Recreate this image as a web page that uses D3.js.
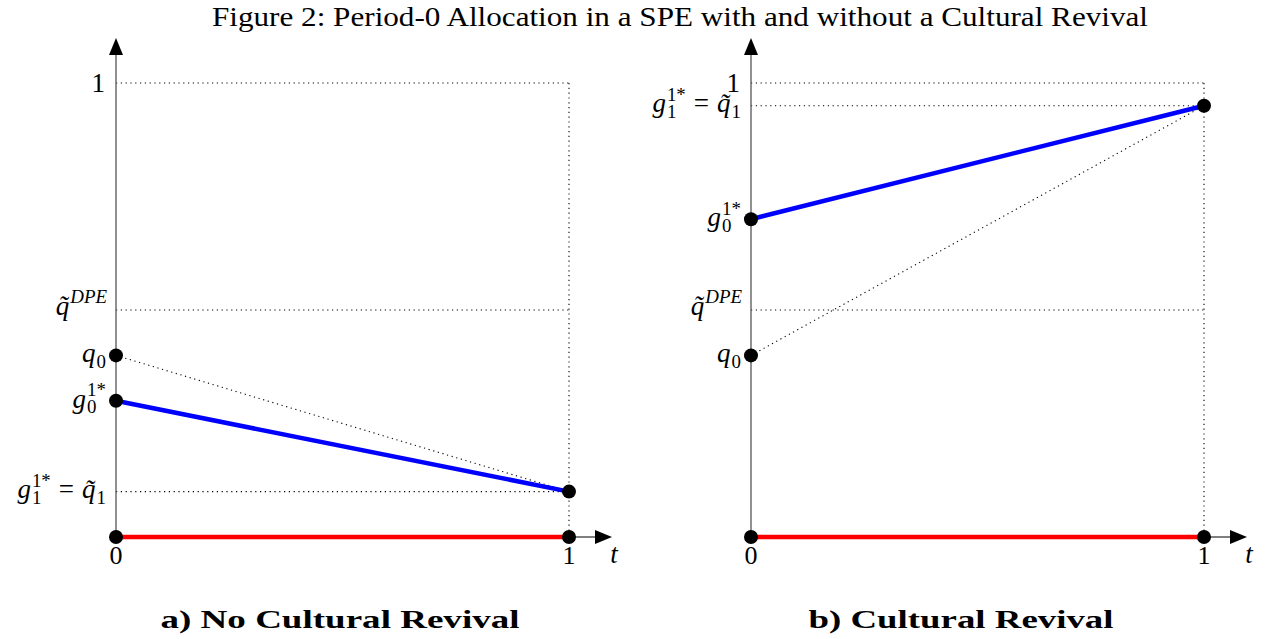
<!DOCTYPE html>
<html><head><meta charset="utf-8">
<script src="https://cdn.jsdelivr.net/npm/d3@7"></script>
<style>body{margin:0;background:#fff}svg{display:block}</style>
</head><body>
<svg id="c" width="1271" height="639"></svg>
<script>
const titleText = "Figure 2: Period-0 Allocation in a SPE with and without a Cultural Revival";
const panelTitles = ["a) No Cultural Revival", "b) Cultural Revival"];
const q0Values = [0.40, 0.40];
const g0Values = [0.30, 0.70];
const g1Values = [0.10, 0.95];
const qDPEValues = [0.50, 0.50];
const xTicks = [0, 1];

const svg = d3.select("#c");
const FONT = "'Liberation Serif','DejaVu Serif',serif";
const panelX = [[116, 569], [751, 1204]];
const titleCenters = [340, 961];
const titleWidths = [359, 305];

svg.append("text").attr("x", 212).attr("y", 26)
  .attr("font-family", FONT).attr("font-size", 28)
  .attr("textLength", 936).attr("lengthAdjust", "spacingAndGlyphs")
  .text(titleText);

const meas = svg.append("text").attr("font-family", FONT).attr("x", -1000).attr("y", -1000);
function tw(s, size, it) {
  meas.attr("font-size", size).attr("font-style", it ? "italic" : "normal").text(s);
  return meas.node().getComputedTextLength();
}

// one text element per label; tspans with absolute positions; right edge at xr, math axis at ym
function mathLabel(g, pieces, xr, ym, S) {
  const base = ym + S * 0.25;
  const sS = S * 0.7;
  const items = [];
  let x = 0;
  pieces.forEach(p => {
    if (p.t !== undefined) {
      const s = p.tilde ? p.t + "\u0303" : p.t;
      const w = tw(s, S, p.it);
      items.push({s: s, x: x, y: base, size: S, it: p.it});
      x += w + (p.gap || 0);
    } else {
      let w = 0;
      if (p.sup) {
        items.push({s: p.sup, x: x + 1, y: base - S * 0.42, size: sS, it: p.supIt});
        w = Math.max(w, tw(p.sup, sS, p.supIt) + 1);
      }
      if (p.sub) {
        items.push({s: p.sub, x: x + 1, y: base + S * 0.22, size: sS, it: false});
        w = Math.max(w, tw(p.sub, sS, false) + 1);
      }
      x += w + (p.gap || 0);
    }
  });
  const off = xr - x;
  const t = g.append("text").attr("font-family", FONT).attr("xml:space", "preserve");
  items.forEach(it => t.append("tspan").attr("x", off + it.x).attr("y", it.y)
    .attr("font-size", it.size).attr("font-style", it.it ? "italic" : "normal").text(it.s));
  return t;
}

panelTitles.forEach((pt, i) => {
  const x = d3.scaleLinear().domain([0, 1]).range(panelX[i]);
  const y = d3.scaleLinear().domain([0, 1]).range([537, 83]);
  const g = svg.append("g");
  const x0 = x(0), x1 = x(1);
  const dotted = (a, b) => g.append("line")
    .attr("x1", a[0]).attr("y1", a[1]).attr("x2", b[0]).attr("y2", b[1])
    .attr("stroke", "#000").attr("stroke-width", 1.1).attr("stroke-dasharray", "1.2,3.6");
  [1, qDPEValues[i], g1Values[i]].forEach(v => dotted([x0, y(v)], [x1, y(v)]));
  dotted([x1, y(1)], [x1, y(0)]);
  dotted([x0, y(q0Values[i])], [x1, y(g1Values[i])]);

  g.append("line").attr("x1", x0).attr("y1", y(0)).attr("x2", x0).attr("y2", 52)
    .attr("stroke", "#555").attr("stroke-width", 1.3);
  g.append("line").attr("x1", x0).attr("y1", y(0)).attr("x2", x1 + 30).attr("y2", y(0))
    .attr("stroke", "#555").attr("stroke-width", 1.3);
  g.append("path").attr("d", `M${x0},38 L${x0 - 7},55 L${x0 + 7},55 Z`).attr("fill", "#000");
  g.append("path").attr("d", `M${x1 + 43},${y(0)} L${x1 + 26},${y(0) - 7} L${x1 + 26},${y(0) + 7} Z`).attr("fill", "#000");

  g.append("line").attr("x1", x0).attr("y1", y(0)).attr("x2", x1).attr("y2", y(0))
    .attr("stroke", "#ff0000").attr("stroke-width", 4.5);
  g.append("line").attr("x1", x0).attr("y1", y(g0Values[i])).attr("x2", x1).attr("y2", y(g1Values[i]))
    .attr("stroke", "#0000ff").attr("stroke-width", 4.5);

  const dots = [[0, 0], [1, 0], [0, q0Values[i]], [0, g0Values[i]], [1, g1Values[i]]];
  g.selectAll("circle.d").data(dots).enter().append("circle")
    .attr("cx", d => x(d[0])).attr("cy", d => y(d[1])).attr("r", 7).attr("fill", "#000");

  xTicks.forEach(t => g.append("text").attr("x", x(t)).attr("y", 564)
    .attr("text-anchor", "middle").attr("font-family", FONT).attr("font-size", 26).text(t));
  g.append("text").attr("x", x1 + 45).attr("y", 563).attr("text-anchor", "middle")
    .attr("font-family", FONT).attr("font-size", 27).attr("font-style", "italic").text("t");
  g.append("text").attr("x", x0 - 11).attr("y", y(1) + 9).attr("text-anchor", "end")
    .attr("font-family", FONT).attr("font-size", 27).text("1");

  const S = 27;
  mathLabel(g, [{t: "q", it: true, tilde: true}, {sup: "DPE", supIt: true}], x0 - 9, y(qDPEValues[i]) - 2, S);
  mathLabel(g, [{t: "q", it: true}, {sub: "0"}], x0 - 10, y(q0Values[i]), S);
  mathLabel(g, [{t: "g", it: true}, {sub: "0", sup: "1*"}], x0 - 10, y(g0Values[i]), S);
  mathLabel(g, [{t: "g", it: true}, {sub: "1", sup: "1*", gap: 8}, {t: "=", gap: 8}, {t: "q", it: true, tilde: true}, {sub: "1"}],
    x0 - 10, y(g1Values[i]), S);

  svg.append("text").attr("x", titleCenters[i]).attr("y", 628).attr("text-anchor", "middle")
    .attr("font-family", FONT).attr("font-size", 26).attr("font-weight", "bold")
    .attr("textLength", titleWidths[i]).attr("lengthAdjust", "spacingAndGlyphs").text(pt);
});
meas.remove();
</script>
</body></html>
